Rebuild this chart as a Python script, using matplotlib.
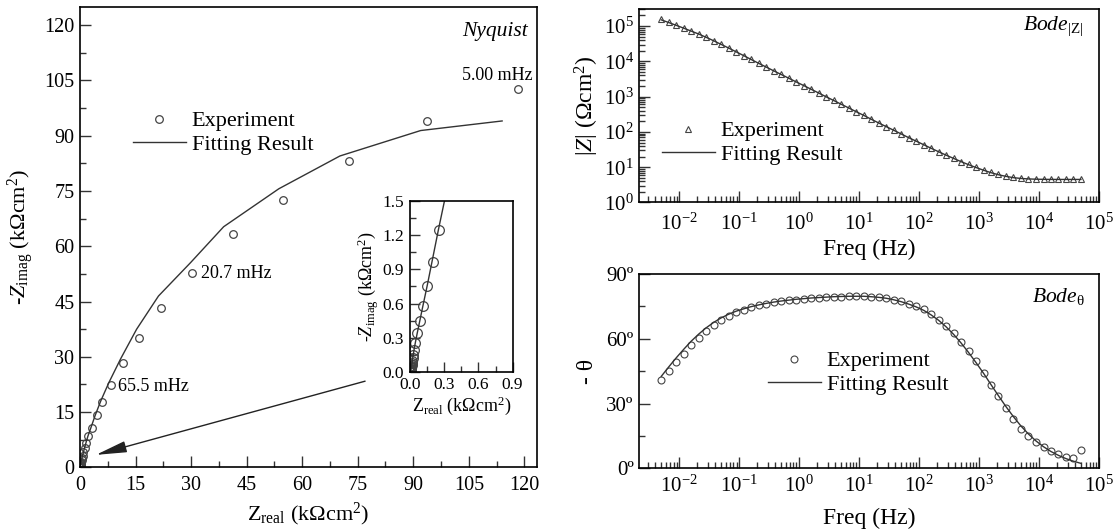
import numpy as np
import matplotlib
matplotlib.use('Agg')
import matplotlib.pyplot as plt
from matplotlib.ticker import MultipleLocator, LogLocator, LogFormatterMathtext, NullFormatter

plt.rcParams['font.family'] = ['Liberation Serif', 'DejaVu Serif']
plt.rcParams['mathtext.fontset'] = 'custom'
plt.rcParams['mathtext.rm'] = 'Liberation Serif'
plt.rcParams['mathtext.it'] = 'Liberation Serif:italic'
plt.rcParams['mathtext.bf'] = 'Liberation Serif:bold'
plt.rcParams['axes.linewidth'] = 1.2

# frequencies (Hz), 8 points per decade
freq = [0.005, 0.00667, 0.00889, 0.0119, 0.0158, 0.0211, 0.0281, 0.0375,
        0.05, 0.0667, 0.0889, 0.119, 0.158, 0.211, 0.281, 0.375,
        0.5, 0.667, 0.889, 1.19, 1.58, 2.11, 2.81, 3.75,
        5.0, 6.67, 8.89, 11.9, 15.8, 21.1, 28.1, 37.5,
        50, 66.7, 88.9, 119, 158, 211, 281, 375,
        500, 667, 889, 1190, 1580, 2110, 2810, 3750,
        5000, 6670, 8890, 11900, 15800, 21100, 28100, 37500,
        50000]

# |Z| (ohm cm2)
zmod_exp = [157000, 130000, 108000, 89000, 73500, 61000, 48500, 38500,
            30300, 23900, 18600, 14500, 11300, 8800, 6900, 5400,
            4250, 3340, 2620, 2060, 1620, 1270, 990, 780,
            610, 480, 375, 295, 230, 180, 142, 112,
            88, 69, 55, 43.5, 34.5, 27.5, 22.0, 17.8,
            14.5, 12.0, 10.0, 8.4, 7.2, 6.3, 5.6, 5.15,
            4.85, 4.70, 4.60, 4.55, 4.50, 4.50, 4.50, 4.50,
            4.50]
zmod_fit = [150000, 126000, 105000, 87000, 72000, 59500, 48000, 38300,
            30200, 23800, 18600, 14500, 11300, 8800, 6900, 5400,
            4250, 3340, 2620, 2060, 1620, 1270, 990, 780,
            610, 480, 375, 295, 230, 180, 142, 112,
            88, 69, 55, 43.5, 34.5, 27.5, 22.0, 17.8,
            14.4, 11.8, 9.8, 8.2, 7.0, 6.1, 5.5, 5.05,
            4.80, 4.65, 4.57, 4.53, 4.51, 4.50, 4.50, 4.50,
            4.50]

# -theta (deg)
phase_exp = [41.1, 45.3, 49.2, 53.1, 57.0, 60.6, 63.7, 66.3,
             68.6, 70.7, 72.2, 73.4, 74.5, 75.5, 76.2, 76.9,
             77.3, 77.8, 78.1, 78.4, 78.7, 79.0, 79.2, 79.3,
             79.5, 79.7, 79.7, 79.7, 79.5, 79.2, 78.9, 78.1,
             77.3, 76.2, 75.0, 73.8, 71.4, 68.8, 66.0, 62.6,
             58.5, 54.3, 49.7, 44.3, 38.5, 33.4, 28.0, 22.8,
             18.3, 14.8, 12.0, 9.8, 7.8, 6.5, 5.4, 4.7,
             8.5]
phase_fit = [42.6, 47.0, 51.2, 55.2, 58.9, 62.2, 65.1, 67.6,
             69.7, 71.4, 72.8, 73.9, 74.9, 75.7, 76.4, 77.0,
             77.5, 77.9, 78.3, 78.6, 78.9, 79.1, 79.3, 79.5,
             79.6, 79.7, 79.7, 79.7, 79.5, 79.2, 78.8, 78.1,
             77.2, 76.1, 74.8, 73.2, 71.1, 68.6, 65.6, 62.1,
             58.1, 53.7, 49.0, 44.0, 38.8, 33.6, 28.6, 23.9,
             19.6, 15.9, 12.7, 10.0, 7.8, 6.0, 4.5, 3.3,
             2.3]

# Nyquist (kohm cm2)
zre_exp = [118.3, 93.7, 72.6, 54.7, 41.4, 30.3, 21.9, 16.0,
           11.6, 8.3, 5.9, 4.5, 3.2, 2.2, 1.65, 1.25,
           0.95, 0.72, 0.55, 0.42, 0.32, 0.254, 0.199, 0.152,
           0.114, 0.088, 0.064, 0.047, 0.036, 0.029, 0.024, 0.0205,
           0.0181, 0.0152, 0.0131, 0.0113, 0.0096, 0.0088, 0.0080, 0.0072,
           0.0067, 0.0063, 0.0058, 0.0054, 0.0052, 0.0049, 0.0047, 0.0046,
           0.0045, 0.0045, 0.0045, 0.0045, 0.0044, 0.0045, 0.0045, 0.0045,
           0.0045]
zim_exp = [102.6, 94.0, 83.2, 72.5, 63.2, 52.8, 43.3, 35.1,
           28.2, 22.4, 17.8, 14.1, 10.8, 8.5, 6.6, 5.2,
           4.05, 3.2, 2.5, 1.95, 1.55, 1.243, 0.965, 0.751,
           0.576, 0.447, 0.342, 0.257, 0.195, 0.150, 0.118, 0.095,
           0.078, 0.064, 0.052, 0.042, 0.033, 0.026, 0.0205, 0.0163,
           0.0129, 0.0102, 0.0081, 0.0064, 0.0050, 0.0039, 0.0031, 0.0024,
           0.0019, 0.0015, 0.0012, 0.00095, 0.00077, 0.00061, 0.00051, 0.00042,
           0.00067]
zre_fit = [114.0, 92.0, 70.2, 53.7, 38.8, 29.9, 21.2, 15.3,
           11.0, 7.8, 5.6, 4.1, 3.0, 2.15, 1.6, 1.2,
           0.92, 0.70, 0.54, 0.41, 0.315, 0.25, 0.196, 0.152,
           0.116, 0.088, 0.066, 0.050, 0.038, 0.030, 0.024, 0.0205,
           0.0181, 0.0152, 0.0131, 0.0113, 0.0096, 0.0088, 0.0080, 0.0072,
           0.0067, 0.0063, 0.0058, 0.0054, 0.0052, 0.0049, 0.0047, 0.0046,
           0.0045, 0.0045, 0.0045, 0.0045, 0.0045, 0.0045, 0.0045, 0.0045,
           0.0045]
zim_fit = [94.0, 91.4, 84.5, 75.6, 65.3, 55.6, 46.5, 37.5,
           29.5, 23.0, 18.0, 14.1, 10.9, 8.5, 6.6, 5.2,
           4.05, 3.2, 2.5, 1.97, 1.56, 1.25, 0.98, 0.76,
           0.59, 0.455, 0.35, 0.27, 0.205, 0.155, 0.12, 0.095,
           0.078, 0.064, 0.052, 0.042, 0.033, 0.026, 0.0205, 0.0163,
           0.0129, 0.0102, 0.0081, 0.0064, 0.0050, 0.0039, 0.0031, 0.0024,
           0.0019, 0.0015, 0.0012, 0.00095, 0.00077, 0.00061, 0.00048, 0.00038,
           0.0003]

freq_labels = ['5.00 mHz', '20.7 mHz', '65.5 mHz']

LC = '#333333'
W, H = 1120, 532


def fig_pos(px, py):
    return (px / W, 1 - py / H)


def style_ticks(ax, size):
    ax.tick_params(which='both', direction='in', top=False, right=False,
                   labelsize=size, width=1.0, color=LC, pad=4)
    ax.tick_params(which='major', length=8)
    ax.tick_params(which='minor', length=4.5)


fig = plt.figure(figsize=(11.2, 5.32), dpi=100)

# ---- Nyquist ----
ax = fig.add_axes([0.0714, 0.1214, 0.408, 0.866])
ax.plot(zre_exp, zim_exp, ls='none', marker='o', ms=5.5, mfc='none',
        mec='#444444', mew=0.9, label='Experiment')
ax.plot(zre_fit, zim_fit, color=LC, lw=1.0, label='Fitting Result')
ax.set_xlim(0, 123.4)
ax.set_ylim(0, 125)
ax.xaxis.set_major_locator(MultipleLocator(15))
ax.xaxis.set_minor_locator(MultipleLocator(7.5))
ax.yaxis.set_major_locator(MultipleLocator(15))
ax.yaxis.set_minor_locator(MultipleLocator(7.5))
style_ticks(ax, 14.5)
ax.tick_params(axis='x', pad=6)
ax.set_xlabel('Z$_{\\rm real}$ (kΩcm$^2$)', fontsize=16, labelpad=4)
ax.set_ylabel('-$Z_{\\rm imag}$ (kΩcm$^2$)', fontsize=16, labelpad=6)
ax.text(0.981, 0.946, 'Nyquist', transform=ax.transAxes, ha='right',
        va='center', fontsize=15.5, style='italic')
ax.text(103.3, 106.4, freq_labels[0], fontsize=13, va='center')
ax.text(32.6, 52.5, freq_labels[1], fontsize=13, va='center')
ax.text(10.3, 21.9, freq_labels[2], fontsize=13, va='center')
ax.annotate('', xy=(4.3, 3.4), xytext=(77, 23.4),
            arrowprops=dict(arrowstyle='-|>,head_length=1.9,head_width=0.35',
                            color='#222222', lw=1.0, mutation_scale=10,
                            shrinkA=0, shrinkB=0))
ax.legend(loc='center left', bbox_to_anchor=fig_pos(133, 133),
          bbox_transform=fig.transFigure, frameon=False, borderpad=0,
          borderaxespad=0, handlelength=2.37, handletextpad=0.27,
          labelspacing=0.15, fontsize=16)

# ---- inset ----
ins = fig.add_axes([0.366, 0.301, 0.0917, 0.321])
ins.plot(zre_exp, zim_exp, ls='none', marker='o', ms=7, mfc='none',
         mec='#444444', mew=0.9)
ins.plot(zre_fit, zim_fit, color=LC, lw=1.0)
ins.set_xlim(0, 0.9)
ins.set_ylim(0, 1.5)
ins.xaxis.set_major_locator(MultipleLocator(0.3))
ins.xaxis.set_minor_locator(MultipleLocator(0.15))
ins.yaxis.set_major_locator(MultipleLocator(0.3))
ins.yaxis.set_minor_locator(MultipleLocator(0.15))
ins.xaxis.set_major_formatter(matplotlib.ticker.FormatStrFormatter('%.1f'))
ins.yaxis.set_major_formatter(matplotlib.ticker.FormatStrFormatter('%.1f'))
style_ticks(ins, 12.5)
ins.tick_params(which='major', length=7)
ins.tick_params(which='minor', length=4)
ins.set_xlabel('Z$_{\\rm real}$ (kΩcm$^2$)', fontsize=13, labelpad=1)
ins.set_ylabel('-$Z_{\\rm imag}$ (kΩcm$^2$)', fontsize=13, labelpad=1)

# ---- Bode |Z| ----
bz = fig.add_axes([0.5708, 0.6194, 0.4104, 0.3632])
bz.plot(freq, zmod_exp, ls='none', marker='^', ms=5, mfc='none',
        mec='#444444', mew=0.8, label='Experiment')
bz.plot(freq, zmod_fit, color=LC, lw=1.0, label='Fitting Result')
bz.set_xscale('log')
bz.set_yscale('log')
bz.set_xlim(0.00215, 1e5)
bz.set_ylim(1, 3e5)
for axis in (bz.xaxis, bz.yaxis):
    axis.set_major_locator(LogLocator(base=10, numticks=20))
    axis.set_minor_locator(LogLocator(base=10, subs=np.arange(2, 10), numticks=20))
    axis.set_major_formatter(LogFormatterMathtext())
    axis.set_minor_formatter(NullFormatter())
style_ticks(bz, 15)
bz.tick_params(axis='x', pad=8)
bz.set_xlabel('Freq (Hz)', fontsize=17, labelpad=3)
bz.set_ylabel('|$Z$| (Ωcm$^2$)', fontsize=17, labelpad=2)
bz.text(0.966, 0.91, 'Bode$_{\\rm |Z|}$', transform=bz.transAxes, ha='right',
        va='center', fontsize=15.5, style='italic')
bz.legend(loc='center left', bbox_to_anchor=fig_pos(662, 143),
          bbox_transform=fig.transFigure, frameon=False, borderpad=0,
          borderaxespad=0, handlelength=2.37, handletextpad=0.27,
          labelspacing=0.15, fontsize=16)

# ---- Bode phase ----
bp = fig.add_axes([0.5708, 0.1197, 0.4104, 0.3652])
bp.plot(freq, phase_exp, ls='none', marker='o', ms=5, mfc='none',
        mec='#444444', mew=0.8, label='Experiment')
bp.plot(freq, phase_fit, color=LC, lw=1.0, label='Fitting Result')
bp.set_xscale('log')
bp.set_xlim(0.00215, 1e5)
bp.set_ylim(0, 90)
bp.xaxis.set_major_locator(LogLocator(base=10, numticks=20))
bp.xaxis.set_minor_locator(LogLocator(base=10, subs=np.arange(2, 10), numticks=20))
bp.xaxis.set_major_formatter(LogFormatterMathtext())
bp.xaxis.set_minor_formatter(NullFormatter())
bp.set_yticks([0, 30, 60, 90])
bp.set_yticklabels(['0º', '30º', '60º', '90º'])
bp.yaxis.set_minor_locator(MultipleLocator(15))
style_ticks(bp, 15)
bp.tick_params(axis='x', pad=5)
bp.set_xlabel('Freq (Hz)', fontsize=17, labelpad=8)
bp.set_ylabel('- θ', fontsize=17, labelpad=6)
bp.text(0.970, 0.883, 'Bode$_{\\rm θ}$', transform=bp.transAxes, ha='right',
        va='center', fontsize=15.5, style='italic')
bp.legend(loc='center left', bbox_to_anchor=fig_pos(768, 373),
          bbox_transform=fig.transFigure, frameon=False, borderpad=0,
          borderaxespad=0, handlelength=2.37, handletextpad=0.27,
          labelspacing=0.15, fontsize=16)

fig.savefig('out.png', dpi=100)
